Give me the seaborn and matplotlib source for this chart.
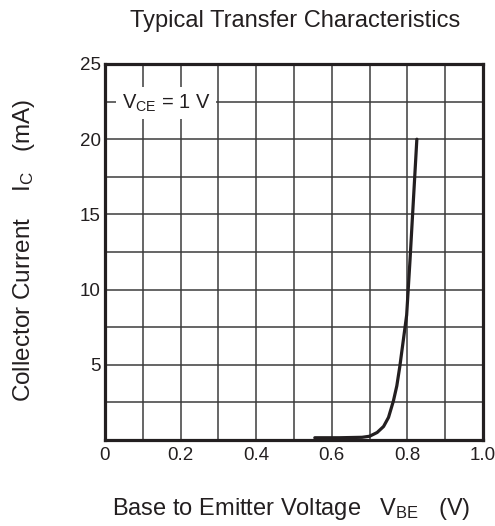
import numpy as np
import pandas as pd
import seaborn as sns
import matplotlib
matplotlib.use('Agg')
import matplotlib.pyplot as plt

# curve (V_BE in volts, I_C in mA)
vbe = [0.555, 0.62, 0.68, 0.70, 0.72, 0.737, 0.75, 0.763, 0.772, 0.780, 0.789, 0.798, 0.807, 0.816, 0.825]
ic = [0.15, 0.15, 0.18, 0.25, 0.5, 0.9, 1.5, 2.6, 3.6, 4.9, 6.6, 8.3, 12.0, 16.0, 20.0]

x_ticks = [0, 0.1, 0.2, 0.3, 0.4, 0.5, 0.6, 0.7, 0.8, 0.9, 1.0]
x_labels = ['0', '', '0.2', '', '0.4', '', '0.6', '', '0.8', '', '1.0']
y_ticks = [0, 2.5, 5, 7.5, 10, 12.5, 15, 17.5, 20, 22.5, 25]
y_labels = ['', '', '5', '', '10', '', '15', '', '20', '', '25']

ink = '#231f20'

sns.set_style('white')
plt.rcParams['font.family'] = ['Liberation Sans', 'DejaVu Sans']
plt.rcParams['mathtext.fontset'] = 'custom'
plt.rcParams['mathtext.rm'] = 'Liberation Sans'
plt.rcParams['mathtext.default'] = 'regular'

df = pd.DataFrame({'vbe': vbe, 'ic': ic})

fig = plt.figure(figsize=(4.95, 5.26), dpi=100)
ax = fig.add_axes([105 / 495, 86 / 526, 378 / 495, 376 / 526])

sns.lineplot(data=df, x='vbe', y='ic', ax=ax, color=ink, linewidth=2.3)

ax.set_xlim(0, 1.0)
ax.set_ylim(0, 25)
ax.set_xticks(x_ticks)
ax.set_xticklabels(x_labels)
ax.set_yticks(y_ticks)
ax.set_yticklabels(y_labels)
ax.tick_params(axis='x', length=0, labelsize=13.5, colors=ink, pad=5)
ax.tick_params(axis='y', length=0, labelsize=13.5, colors=ink, pad=3)
ax.grid(True, color='#3c3c3c', linewidth=1.1)
ax.set_axisbelow(True)
for s in ax.spines.values():
    s.set_visible(True)
    s.set_color(ink)
    s.set_linewidth(2.3)

# condition label sits on the 22.5 grid line with a white box behind it
ax.text(0.045, 22.4, 'V$_{CE}$ = 1 V', fontsize=14.5, color=ink, va='center', ha='left',
        bbox=dict(facecolor='white', edgecolor='none', pad=4))

ax.set_xlabel('Base to Emitter Voltage   V$_{BE}$   (V)', fontsize=17, color=ink)
ax.xaxis.set_label_coords(0.493, -0.148)
ax.set_ylabel('Collector Current    I$_{C}$   (mA)', fontsize=17.5, color=ink)
ax.yaxis.set_label_coords(-0.18, 0.505)
fig.text(295 / 495, 1 - 21 / 526, 'Typical Transfer Characteristics', fontsize=17,
         color=ink, ha='center', va='center')

fig.savefig('out.png', dpi=100)
